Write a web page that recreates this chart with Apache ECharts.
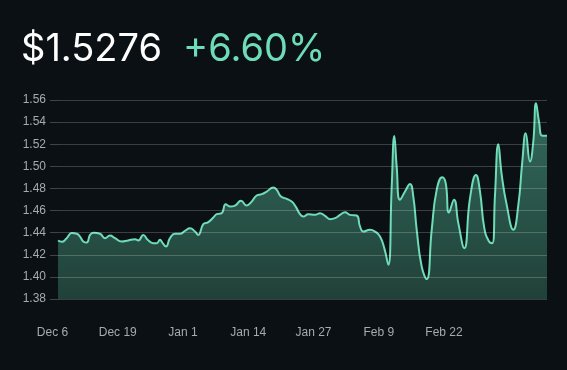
<!DOCTYPE html>
<html>
<head>
<meta charset="utf-8">
<script src="https://cdn.jsdelivr.net/npm/echarts@6/dist/echarts.min.js"></script>
<style>
  html, body { margin: 0; padding: 0; background: #0a1013; }
  #chart { width: 567px; height: 370px; }
</style>
</head>
<body>
<div id="chart"></div>
<script>
// Day offsets since Dec 6 (fractional days) and price values
const days = [0, 0.74, 1.73, 2.73, 3.73, 4.38, 5.04, 5.72, 6.38, 7.03, 8.37, 9.36, 10.36, 11.36, 12.69, 14.01, 15.34, 16.00, 17.00, 17.87, 18.99, 19.67, 20.32, 20.78, 21.52, 22.31, 23.31, 24.31, 25.30, 26.30, 27.30, 27.95, 28.95, 29.95, 30.94, 31.62, 32.62, 33.41, 34.27, 35.27, 36.46, 37.60, 38.59, 39.59, 40.59, 41.58, 42.90, 43.57, 44.43, 45.57, 46.56, 47.36, 48.22, 48.87, 49.87, 51.21, 52.20, 53.20, 54.19, 55.19, 56.19, 57.18, 58.18, 59.51, 60.17, 60.83, 62.16, 63.16, 64.16, 65.01, 65.81, 66.49, 67.01, 67.48, 68.14, 69.14, 70.13, 70.79, 71.47, 72.46, 73.46, 74.46, 75.45, 76.57, 77.25, 77.90, 78.90, 79.76, 80.95, 82.09, 83.28, 84.08, 84.94, 85.87, 86.53, 87.07, 87.73, 88.41, 89.40, 90.72, 91.72, 92.51, 93.19, 94.04, 94.70, 95.24, 95.84, 96.50, 97.43];
const prices = [1.4329, 1.4317, 1.4350, 1.4396, 1.4390, 1.4365, 1.4320, 1.4310, 1.4380, 1.4400, 1.4390, 1.4350, 1.4375, 1.4350, 1.4320, 1.4330, 1.4340, 1.4330, 1.4380, 1.4335, 1.4305, 1.4305, 1.4335, 1.4310, 1.4275, 1.4350, 1.4390, 1.4390, 1.4417, 1.4440, 1.4410, 1.4380, 1.4477, 1.4495, 1.4537, 1.4567, 1.4577, 1.4658, 1.4636, 1.4645, 1.4688, 1.4645, 1.4681, 1.4736, 1.4748, 1.4772, 1.4808, 1.4787, 1.4727, 1.4706, 1.4681, 1.4636, 1.4567, 1.4546, 1.4567, 1.4561, 1.4576, 1.4552, 1.4522, 1.4531, 1.4561, 1.4585, 1.4561, 1.4555, 1.4456, 1.4410, 1.4426, 1.4410, 1.4365, 1.4260, 1.4110, 1.4817, 1.5275, 1.4998, 1.4697, 1.4772, 1.4841, 1.4727, 1.4426, 1.4094, 1.3980, 1.4426, 1.4787, 1.4902, 1.4848, 1.4582, 1.4697, 1.4486, 1.4260, 1.4712, 1.4922, 1.4772, 1.4441, 1.4320, 1.4305, 1.4742, 1.5200, 1.4922, 1.4651, 1.4426, 1.4651, 1.5043, 1.5299, 1.5043, 1.5223, 1.5570, 1.5404, 1.5277, 1.5277];
const xTickLabels = ['Dec 6', 'Dec 19', 'Jan 1', 'Jan 14', 'Jan 27', 'Feb 9', 'Feb 22'];
const priceText = '$1.5276';
const changeText = '+6.60%';

const chart = echarts.init(document.getElementById('chart'), null, { renderer: 'canvas' });
const seriesData = days.map((d, i) => [d, prices[i]]);

chart.setOption({
  backgroundColor: '#0a1013',
  animation: false,
  title: [
    { text: priceText, left: 16, top: 26, textStyle: { color: '#ffffff', fontSize: 38, fontWeight: 400, fontFamily: 'Inter' } },
    { text: changeText, left: 178, top: 26, textStyle: { color: '#6fdcb8', fontSize: 38, fontWeight: 400, fontFamily: 'Inter' } }
  ],
  grid: { left: 58, right: 20, top: 100, bottom: 71 },
  xAxis: {
    type: 'value',
    min: 0,
    max: 97.43,
    interval: 13,
    axisLine: { show: false },
    axisTick: { show: false },
    splitLine: { show: false },
    axisLabel: {
      color: '#a6abb0',
      fontSize: 12,
      fontFamily: 'Liberation Sans',
      margin: 28,
      padding: [0, 11, 0, 0],
      showMaxLabel: false,
      formatter: function (v) {
        const k = Math.round(v / 13);
        if (Math.abs(v - k * 13) > 0.01) return '';
        return xTickLabels[k] || '';
      }
    }
  },
  yAxis: {
    type: 'value',
    min: 1.38,
    max: 1.56,
    interval: 0.02,
    z: 10,
    axisLine: { show: false },
    axisTick: { show: true, length: 8, lineStyle: { color: 'rgba(255,255,255,0.22)' } },
    splitLine: { show: true, lineStyle: { color: 'rgba(255,255,255,0.2)', width: 1 } },
    axisLabel: {
      color: '#a6abb0',
      fontSize: 12,
      fontFamily: 'Liberation Sans',
      margin: 12,
      formatter: v => v.toFixed(2)
    }
  },
  series: [{
    type: 'line',
    data: seriesData,
    smooth: 0.5,
    symbol: 'none',
    lineStyle: { color: '#6fdcb8', width: 2 },
    areaStyle: {
      origin: 'start',
      color: new echarts.graphic.LinearGradient(0, 0, 0, 1, [
        { offset: 0, color: '#44907a' },
        { offset: 1, color: '#2a5649' }
      ])
    }
  }]
});
</script>
</body>
</html>
